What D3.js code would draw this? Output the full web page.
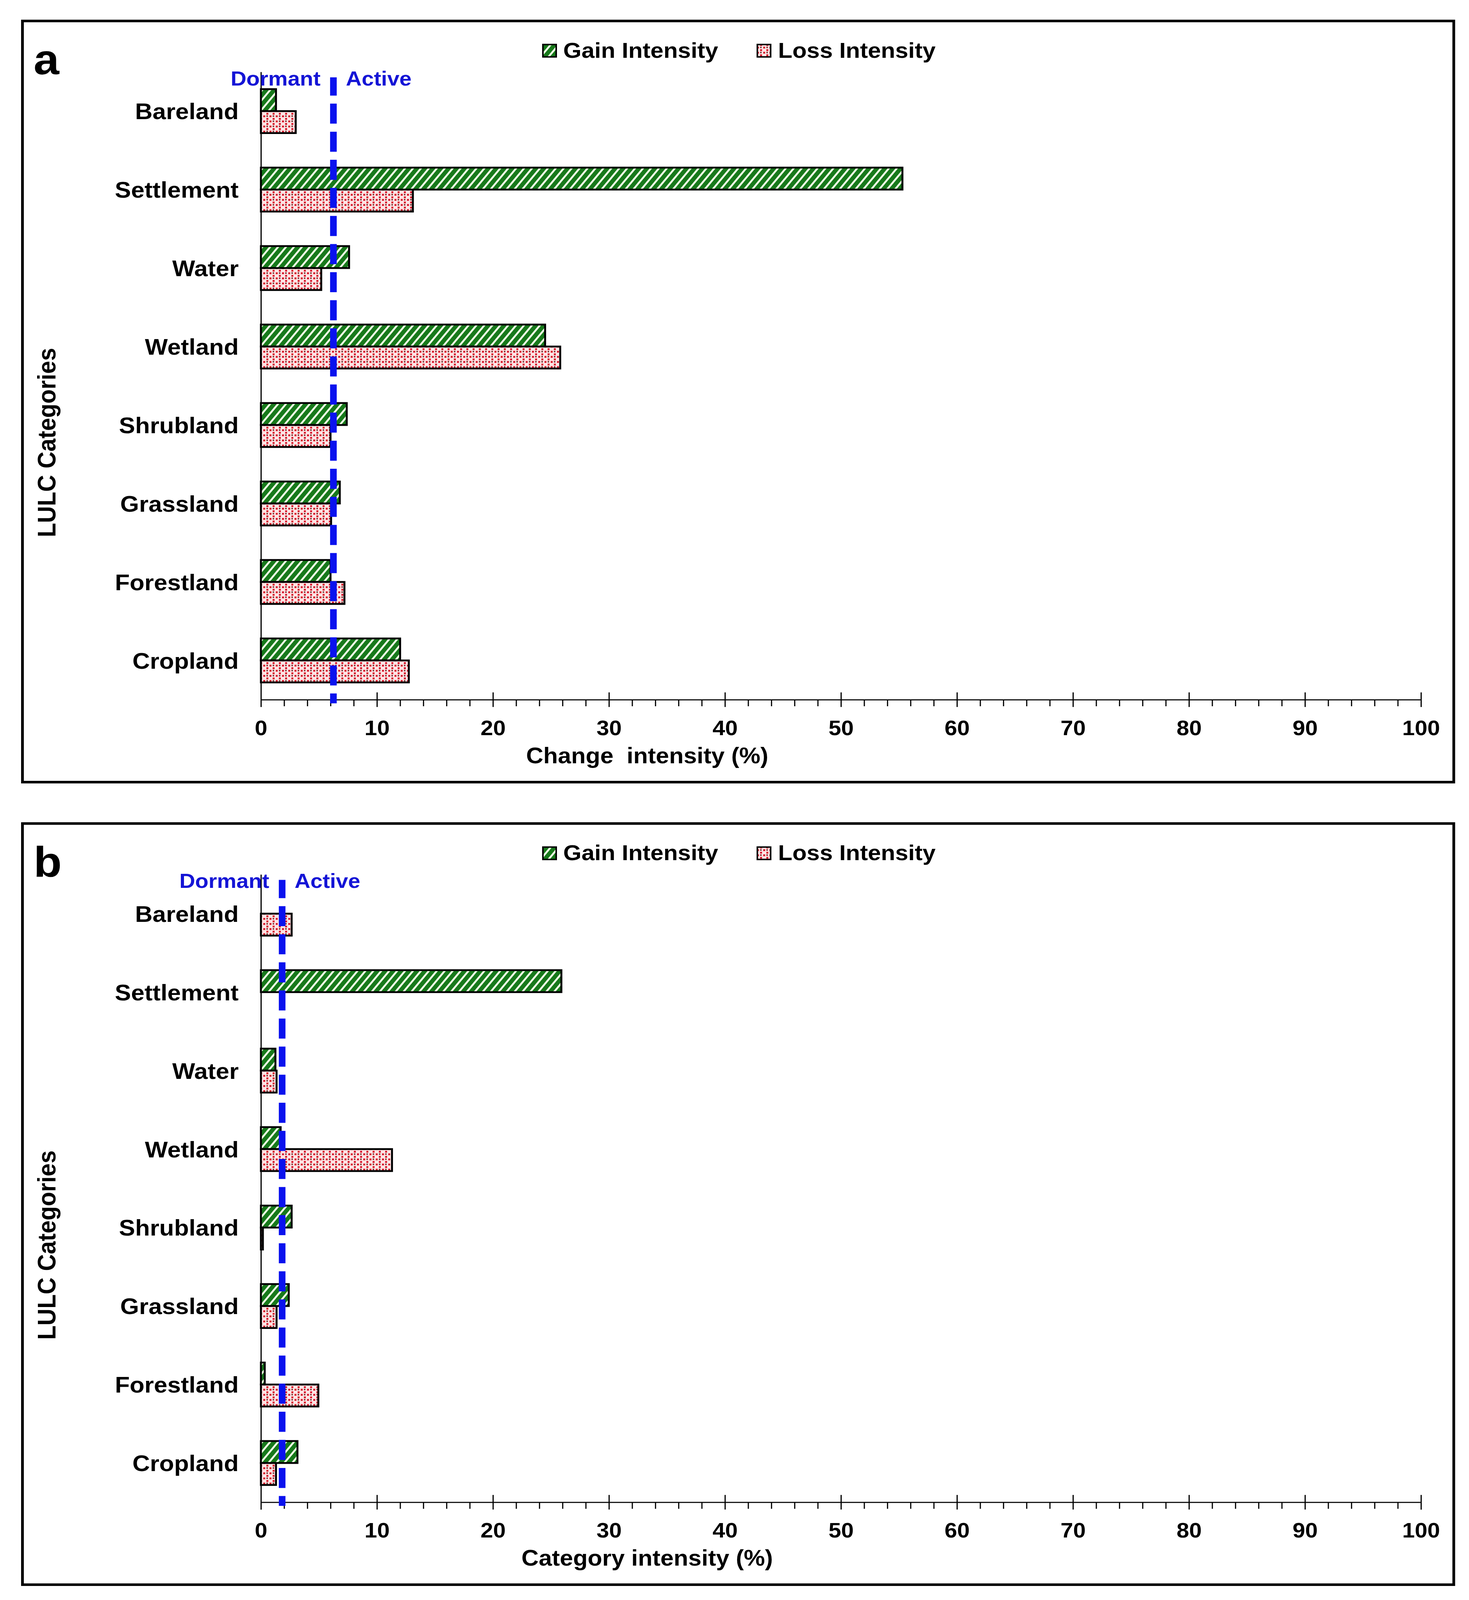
<!DOCTYPE html>
<html>
<head>
<meta charset="utf-8">
<script src="https://cdn.jsdelivr.net/npm/d3@7"></script>
<style>
  html, body { margin: 0; padding: 0; background: #fff; overflow: hidden; }
  svg { display: block; }
  text { font-family: "Liberation Sans", Arial, sans-serif; font-weight: bold; }
</style>
</head>
<body>
<script>
// LULC categories, top to bottom
const categories = ["Bareland", "Settlement", "Water", "Wetland", "Shrubland", "Grassland", "Forestland", "Cropland"];

// panel a: change intensity (%)
const gainA = [1.3, 55.3, 7.6, 24.5, 7.4, 6.8, 6.0, 12.0];
const lossA = [3.0, 13.1, 5.2, 25.8, 6.0, 6.05, 7.2, 12.75];
const uniformA = 6.25;

// panel b: category intensity (%)
const gainB = [0, 25.9, 1.25, 1.7, 2.65, 2.4, 0.33, 3.15];
const lossB = [2.65, 0, 1.35, 11.3, 0.17, 1.35, 4.95, 1.3];
const uniformB = 1.83;

const xTicks = [0, 10, 20, 30, 40, 50, 60, 70, 80, 90, 100];
const xMinor = d3.range(0, 101, 2).filter(v => v % 10 !== 0);
const legendLabels = ["Gain Intensity", "Loss Intensity"];
const panelLabels = ["a", "b"];
const xTitles = ["Change\u00a0\u00a0intensity (%)", "Category intensity (%)"];

const width = 3761, height = 4386;
const panelShift = 2200;

// the window is shorter than the figure, so the drawing is fitted to it
const svg = d3.select("body").append("svg")
    .attr("width", window.innerWidth || width)
    .attr("height", window.innerHeight || height)
    .attr("viewBox", [0, 0, width, height])
    .attr("preserveAspectRatio", "none");

// fill patterns
const defs = svg.append("defs");
const hatch = defs.append("pattern")
    .attr("id", "hatch")
    .attr("patternUnits", "userSpaceOnUse")
    .attr("width", 16).attr("height", 16)
    .attr("patternTransform", "rotate(38)");
hatch.append("rect").attr("width", 16).attr("height", 16).attr("fill", "#17791b");
hatch.append("rect").attr("width", 5).attr("height", 16).attr("fill", "#f3fde6");

const dots = defs.append("pattern")
    .attr("id", "dots")
    .attr("patternUnits", "userSpaceOnUse")
    .attr("width", 16).attr("height", 14);
dots.append("rect").attr("width", 16).attr("height", 14).attr("fill", "#fde4e4");
dots.append("rect").attr("x", 2).attr("y", 2).attr("width", 5).attr("height", 5).attr("fill", "#d8142a");
dots.append("rect").attr("x", 10).attr("y", 9).attr("width", 5).attr("height", 5).attr("fill", "#d8142a");
dots.append("rect").attr("x", 10).attr("y", 2).attr("width", 4).attr("height", 4).attr("fill", "#7a3c3a");

const fills = ["url(#hatch)", "url(#dots)"];

const x = d3.scaleLinear().domain([0, 100]).range([668, 3638]);
const y = d3.scaleBand()
    .domain(categories)
    .range([197, 1918])
    .paddingInner(0.44)
    .paddingOuter(0.22);
const bh = y.bandwidth() / 2;

function panel(idx, gain, loss, uniform) {
  const g = svg.append("g").attr("transform", `translate(0,${idx * panelShift})`);

  // frame
  g.append("rect")
      .attr("x", 57.5).attr("y", 57.5)
      .attr("width", 3722 - 57.5).attr("height", 2144 - 57.5)
      .attr("fill", "none").attr("stroke", "#000").attr("stroke-width", 7);

  g.append("text")
      .attr("x", 86).attr("y", 203)
      .attr("font-size", 118)
      .text(panelLabels[idx]);

  // legend
  const legend = g.append("g");
  [[1390, 1442], [1939, 1992]].forEach(([sx, tx], i) => {
    legend.append("rect")
        .attr("x", sx).attr("y", 122).attr("width", 34).attr("height", 34)
        .attr("fill", fills[i]).attr("stroke", "#000").attr("stroke-width", 4);
    legend.append("text")
        .attr("x", tx).attr("y", 158)
        .attr("font-size", 60)
        .text(legendLabels[i]);
  });

  // bars
  const rows = categories.map((c, i) => ({c, values: [gain[i], loss[i]]}));
  const series = g.append("g")
      .selectAll("g")
      .data(rows)
      .join("g")
      .attr("transform", d => `translate(0,${y(d.c)})`);
  series.selectAll("rect")
      .data(d => d.values.map((v, k) => ({v, k})).filter(e => e.v > 0))
      .join("rect")
      .attr("x", x(0))
      .attr("y", e => e.k * bh)
      .attr("width", e => x(e.v) - x(0))
      .attr("height", bh)
      .attr("fill", e => fills[e.k])
      .attr("stroke", "#000")
      .attr("stroke-width", 5);

  // x axis: major ticks crossing the line, minor ticks below
  g.append("g")
      .attr("transform", `translate(0,${y.range()[1]})`)
      .call(d3.axisBottom(x).tickValues(xTicks).tickSizeOuter(0).tickSize(20).tickPadding(36))
      .call(a => a.select(".domain").attr("stroke-width", 3))
      .call(a => a.selectAll(".tick line").attr("y1", -20).attr("stroke-width", 3))
      .call(a => a.selectAll(".tick text")
          .attr("font-size", 58)
          .attr("font-family", "'Liberation Sans', Arial, sans-serif")
          .attr("font-weight", "bold")
          .attr("fill", "#000"));
  g.append("g")
      .attr("transform", `translate(0,${y.range()[1]})`)
      .call(d3.axisBottom(x).tickValues(xMinor).tickSize(18).tickFormat(""))
      .call(a => a.select(".domain").remove())
      .call(a => a.selectAll(".tick line").attr("stroke-width", 3));

  g.append("text")
      .attr("x", 1657).attr("y", 2092)
      .attr("text-anchor", "middle")
      .attr("font-size", 61)
      .text(xTitles[idx]);

  // y axis
  g.append("g")
      .attr("transform", `translate(${x(0)},0)`)
      .call(d3.axisLeft(y).tickSize(0).tickPadding(57))
      .call(a => a.select(".domain").attr("stroke-width", 3))
      .call(a => a.selectAll(".tick text")
          .attr("font-size", 62)
          .attr("font-family", "'Liberation Sans', Arial, sans-serif")
          .attr("font-weight", "bold")
          .attr("fill", "#000")
          .attr("dy", "0.36em"));

  g.append("text")
      .attr("transform", "translate(142,1213) rotate(-90)")
      .attr("text-anchor", "middle")
      .attr("font-size", 64)
      .text("LULC Categories");

  // uniform intensity line
  const ux = x(uniform);
  g.append("line")
      .attr("x1", ux).attr("x2", ux)
      .attr("y1", 212).attr("y2", 1928)
      .attr("stroke", "#0a12ee")
      .attr("stroke-width", 17)
      .attr("stroke-dasharray", "55,22")
      .attr("stroke-dashoffset", 5);

  g.append("text")
      .attr("x", ux - 33).attr("y", 234)
      .attr("text-anchor", "end")
      .attr("font-family", "'Open Sans', sans-serif")
      .attr("font-size", 56)
      .attr("fill", "#1414d6")
      .text("Dormant");
  g.append("text")
      .attr("x", ux + 32).attr("y", 234)
      .attr("font-family", "'Open Sans', sans-serif")
      .attr("font-size", 56)
      .attr("fill", "#1414d6")
      .text("Active");
}

panel(0, gainA, lossA, uniformA);
panel(1, gainB, lossB, uniformB);
</script>
</body>
</html>
